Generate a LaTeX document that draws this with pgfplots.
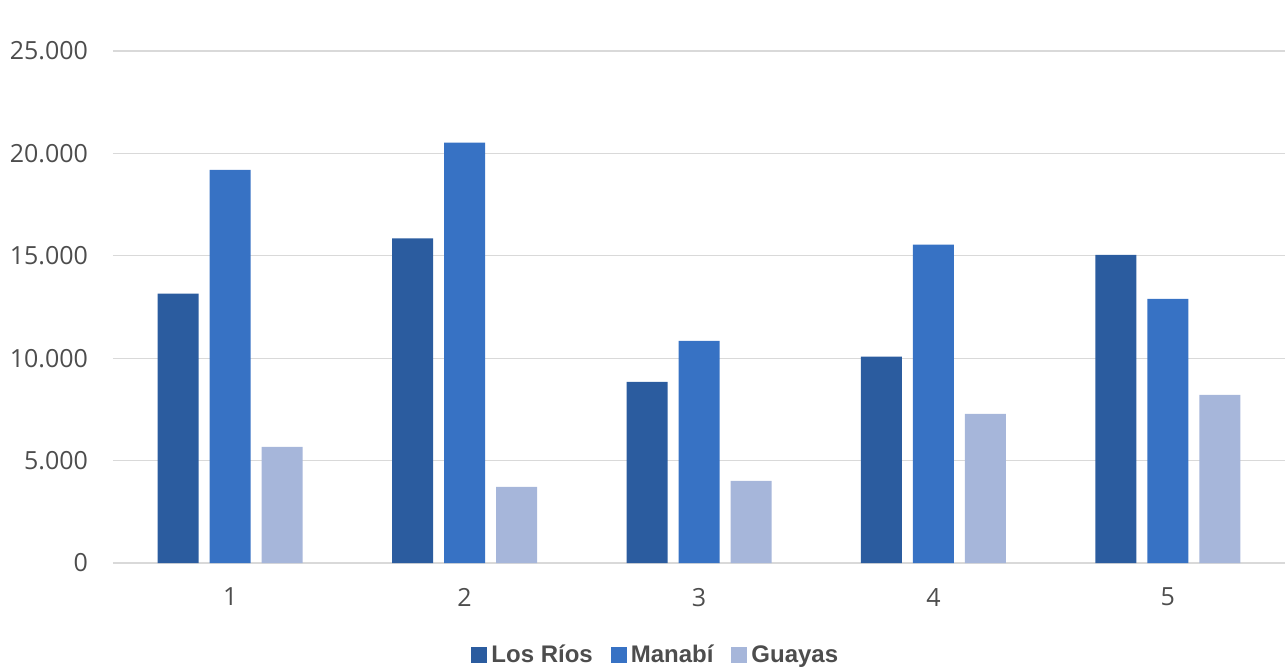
\documentclass[border=0pt]{standalone}
\usepackage{fontspec}
\setmainfont{Open Sans}
\newfontfamily\legendfont{Liberation Sans}
\usepackage{pgfplots}
\pgfplotsset{compat=1.18}
\definecolor{losrios}{HTML}{2B5C9F}
\definecolor{manabi}{HTML}{3772C4}
\definecolor{guayas}{HTML}{A6B6DA}
\definecolor{gridgray}{HTML}{D9D9D9}
\definecolor{labgray}{HTML}{4D4D4D}
\begin{document}
\begin{tikzpicture}
\useasboundingbox (-56.5pt,-52.5pt) rectangle (587.5pt,281.5pt);
\begin{axis}[
    at={(0pt,0pt)}, anchor=south west,
    scale only axis,
    width=586pt, height=256pt,
    ybar=5.5pt, bar width=20.5pt,
    xmin=0.5, xmax=5.5,
    ymin=0, ymax=25000,
    xtick={1,2,3,4,5},
    ytick={0,5000,10000,15000,20000,25000},
    axis line style={draw=none},
    major tick length=0pt,
    ymajorgrids, grid style={gridgray, line width=0.6pt},
    tick label style={font=\fontsize{12.5}{14}\selectfont, text=labgray},
    /pgf/number format/assume math mode=true,
    /pgf/number format/1000 sep={.},
    scaled y ticks=false,
    yticklabel style={xshift=-9pt},
    xticklabel style={yshift=-9pt},
    legend columns=3,
    legend style={draw=none, fill=none, at={(0.464,-0.18)}, anchor=center,
        font=\legendfont\bfseries\fontsize{12}{14}\selectfont, text=labgray,
        /tikz/every odd column/.append style={column sep=0pt},
        /tikz/every even column/.append style={column sep=7pt}},
    legend image code/.code={\fill[#1,draw=none] (0pt,-4pt) rectangle (8pt,4pt);},
]
\addplot[fill=losrios, draw=none] coordinates {(1,13150) (2,15850) (3,8850) (4,10080) (5,15050)};
\addplot[fill=manabi, draw=none] coordinates {(1,19200) (2,20520) (3,10850) (4,15550) (5,12900)};
\addplot[fill=guayas, draw=none] coordinates {(1,5670) (2,3720) (3,4010) (4,7280) (5,8210)};
\legend{Los Ríos, Manabí, Guayas}
\end{axis}
\end{tikzpicture}
\end{document}
